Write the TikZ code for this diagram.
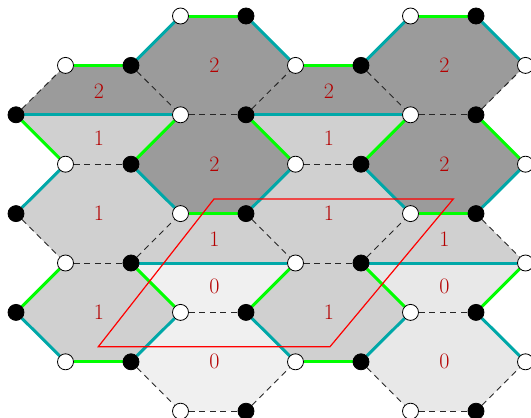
\documentclass[tikz,border=0pt]{standalone}
\usetikzlibrary{backgrounds}
\definecolor{hexdark}{RGB}{155,155,155}
\definecolor{hexmid}{RGB}{208,208,208}
\definecolor{hexlightA}{RGB}{240,240,240}
\definecolor{hexlightB}{RGB}{232,232,232}
\definecolor{edgegreen}{RGB}{0,255,0}
\definecolor{edgeteal}{RGB}{0,168,168}
\definecolor{labelred}{RGB}{180,0,0}
\definecolor{boxred}{RGB}{255,0,0}
\begin{document}
\begin{tikzpicture}[x=1pt,y=-1pt,
  wdot/.style={circle,draw=black,line width=0.8pt,fill=white,minimum size=16pt,inner sep=0pt},
  bdot/.style={circle,draw=black,line width=0.8pt,fill=black,minimum size=16pt,inner sep=0pt},
  gedge/.style={draw=edgegreen,line width=3pt},
  tedge/.style={draw=edgeteal,line width=3pt},
  dedge/.style={draw=black!85,line width=0.9pt,dash pattern=on 6pt off 4.5pt},
  lab/.style={text=labelred,font=\fontsize{22}{26}\selectfont,inner sep=0pt},
  redbox/.style={draw=boxred,line width=1.2pt,line join=miter},
]
\useasboundingbox (0,0) rectangle (531,418);
% lattice points
\foreach \c/\x in {0/16,1/65.5,2/131,3/180.5,4/246,5/295.5,6/361,7/410.5,8/476,9/525.5}
  \foreach \r in {0,...,8}
    \coordinate (p\c-\r) at (\x,{16+49.4*\r});
% vertex dots
\foreach \c/\r in {3/0,7/0,1/1,5/1,9/1,3/2,7/2,1/3,5/3,9/3,3/4,7/4,1/5,5/5,9/5,3/6,7/6,1/7,5/7,9/7,3/8,7/8}
  \node[wdot] (v\c-\r) at (p\c-\r) {};
\foreach \c/\r in {4/0,8/0,2/1,6/1,0/2,4/2,8/2,2/3,6/3,0/4,4/4,8/4,2/5,6/5,0/6,4/6,8/6,2/7,6/7,4/8,8/8}
  \node[bdot] (v\c-\r) at (p\c-\r) {};
\begin{scope}[on background layer]
  % full hexagons
  \foreach \L/\R/\col in {2/1/hexdark,2/3/hexdark,6/1/hexdark,6/3/hexdark,0/4/hexmid,0/6/hexmid,4/4/hexmid,4/6/hexmid,2/7/hexlightA,6/7/hexlightB} {
    \pgfmathtruncatemacro\La{\L+1}\pgfmathtruncatemacro\Lb{\L+2}\pgfmathtruncatemacro\Lc{\L+3}
    \pgfmathtruncatemacro\Ru{\R-1}\pgfmathtruncatemacro\Rd{\R+1}
    \fill[\col] (p\L-\R) -- (p\La-\Ru) -- (p\Lb-\Ru) -- (p\Lc-\R) -- (p\Lb-\Rd) -- (p\La-\Rd) -- cycle;
  }
  % upper halves
  \foreach \L/\R/\col in {0/2/hexdark,4/2/hexdark,2/5/hexmid,6/5/hexmid} {
    \pgfmathtruncatemacro\La{\L+1}\pgfmathtruncatemacro\Lb{\L+2}\pgfmathtruncatemacro\Lc{\L+3}
    \pgfmathtruncatemacro\Ru{\R-1}
    \fill[\col] (p\L-\R) -- (p\La-\Ru) -- (p\Lb-\Ru) -- (p\Lc-\R) -- cycle;
  }
  % lower halves
  \foreach \L/\R/\col in {0/2/hexmid,4/2/hexmid,2/5/hexlightA,6/5/hexlightB} {
    \pgfmathtruncatemacro\La{\L+1}\pgfmathtruncatemacro\Lb{\L+2}\pgfmathtruncatemacro\Lc{\L+3}
    \pgfmathtruncatemacro\Rd{\R+1}
    \fill[\col] (p\L-\R) -- (p\Lc-\R) -- (p\Lb-\Rd) -- (p\La-\Rd) -- cycle;
  }
  % dashed edges
  \foreach \a/\b in {0-2/1-1,2-1/3-2,3-2/4-2,4-2/5-1,6-1/7-2,7-2/8-2,8-2/9-1,1-3/2-3,5-3/6-3,0-4/1-5,1-5/2-5,2-5/3-4,4-4/5-5,5-5/6-5,6-5/7-4,8-4/9-5,3-6/4-6,7-6/8-6,2-7/3-8,3-8/4-8,4-8/5-7,6-7/7-8,7-8/8-8,8-8/9-7}
    \draw[dedge] (v\a) -- (v\b);
  % teal edges
  \foreach \a/\b in {2-1/3-0,4-0/5-1,6-1/7-0,8-0/9-1,0-2/3-2,4-2/7-2,1-3/0-4,2-3/3-4,5-3/4-4,6-3/7-4,9-3/8-4,2-5/5-5,6-5/9-5,0-6/1-7,2-7/3-6,4-6/5-7,6-7/7-6,8-6/9-7}
    \draw[tedge] (v\a) -- (v\b);
  % green edges
  \foreach \a/\b in {3-0/4-0,1-1/2-1,0-2/1-3,2-3/3-2,4-2/5-3,5-1/6-1,7-0/8-0,7-2/6-3,8-2/9-3,3-4/4-4,7-4/8-4,1-5/0-6,2-5/3-6,5-5/4-6,6-5/7-6,8-6/9-5,1-7/2-7,5-7/6-7}
    \draw[gedge] (v\a) -- (v\b);
  % red parallelogram
  \draw[redbox] (98.3,346.7) -- (330,346.7) -- (453.3,199) -- (214,199) -- cycle;
\end{scope}
% labels
\node[lab] (l1) at (214.5,65.4) {2};
\node[lab] (l2) at (214.5,164.2) {2};
\node[lab] (l3) at (444.5,65.4) {2};
\node[lab] (l4) at (444.5,164.2) {2};
\node[lab] (l5) at (99,90.8) {2};
\node[lab] (l6) at (99,137.8) {1};
\node[lab] (l7) at (329,90.8) {2};
\node[lab] (l8) at (329,137.8) {1};
\node[lab] (l9) at (99,213.6) {1};
\node[lab] (l10) at (99,312.4) {1};
\node[lab] (l11) at (329,213.6) {1};
\node[lab] (l12) at (329,312.4) {1};
\node[lab] (l13) at (214.5,239) {1};
\node[lab] (l14) at (214.5,286) {0};
\node[lab] (l15) at (444.5,239) {1};
\node[lab] (l16) at (444.5,286) {0};
\node[lab] (l17) at (214.5,361.8) {0};
\node[lab] (l18) at (444.5,361.8) {0};
\end{tikzpicture}
\end{document}
